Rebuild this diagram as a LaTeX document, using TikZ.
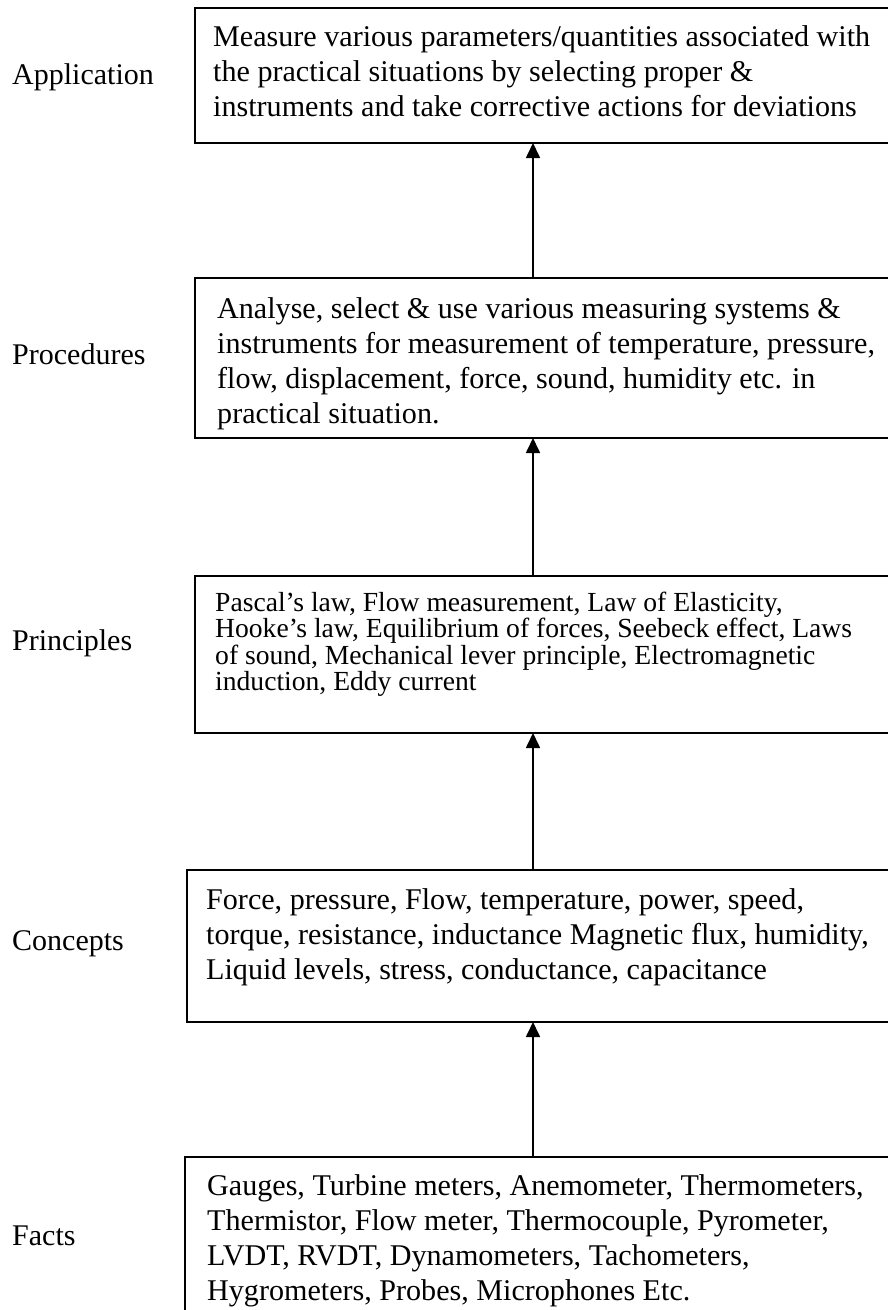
\documentclass[tikz,border=0pt]{standalone}
\usepackage{fontspec}
\setmainfont{Liberation Serif}
\usetikzlibrary{arrows.meta}
\begin{document}
\begin{tikzpicture}[x=1pt,y=-1pt,
  box/.style={draw, line width=1.7pt, anchor=north west, inner sep=0pt, outer sep=0pt},
  txt/.style={anchor=base west, inner sep=0pt, align=left, font=\fontsize{30.1}{35.3}\selectfont},
  stxt/.style={anchor=base west, inner sep=0pt, align=left, font=\fontsize{27.6}{26.5}\selectfont},
  lbl/.style={anchor=base west, inner sep=0pt, font=\fontsize{30}{35.3}\selectfont},
  arr/.style={line width=1.7pt, -{Triangle[width=14pt,length=15pt]}}]
\useasboundingbox (0,0) rectangle (887,1310);
% boxes
\node[box, minimum width=695pt, minimum height=135pt] (b1) at (195,8) {};
\node[box, minimum width=695pt, minimum height=160pt] (b2) at (195,278) {};
\node[box, minimum width=695pt, minimum height=157pt] (b3) at (195,576) {};
\node[box, minimum width=703pt, minimum height=152pt] (b4) at (187,870) {};
\node[box, minimum width=705pt, minimum height=170pt] (b5) at (185,1157) {};
% texts (anchored at the baseline of the last line)
\node[txt] (t1) at (213,116.6) {Measure various parameters/quantities associated with\\the practical situations by selecting proper \&\\instruments and take corrective actions for deviations};
\node[txt] (t2) at (217,423.9) {Analyse, select \& use various measuring systems \&\\instruments for measurement of temperature, pressure,\\flow, displacement, force, sound, humidity etc. in\\practical situation.};
\node[stxt] (t3) at (215,690.5) {Pascal's law, Flow measurement, Law of Elasticity,\\Hooke's law, Equilibrium of forces, Seebeck effect, Laws\\of sound, Mechanical lever principle, Electromagnetic\\induction, Eddy current};
\node[txt] (t4) at (206,979.6) {Force, pressure, Flow, temperature, power, speed,\\torque, resistance, inductance Magnetic flux, humidity,\\Liquid levels, stress, conductance, capacitance};
\node[txt] (t5) at (207,1300.9) {Gauges, Turbine meters, Anemometer, Thermometers,\\Thermistor, Flow meter, Thermocouple, Pyrometer,\\LVDT, RVDT, Dynamometers, Tachometers,\\Hygrometers, Probes, Microphones Etc.};
% labels
\node[lbl] (l1) at (12,84) {Application};
\node[lbl] (l2) at (12,364) {Procedures};
\node[lbl] (l3) at (12,650) {Principles};
\node[lbl] (l4) at (12,950) {Concepts};
\node[lbl] (l5) at (12,1245) {Facts};
% arrows
\coordinate (ax) at (533,0);
\draw[arr] (b2.north -| ax) -- (b1.south -| ax);
\draw[arr] (b3.north -| ax) -- (b2.south -| ax);
\draw[arr] (b4.north -| ax) -- (b3.south -| ax);
\draw[arr] (b5.north -| ax) -- (b4.south -| ax);
\end{tikzpicture}
\end{document}
